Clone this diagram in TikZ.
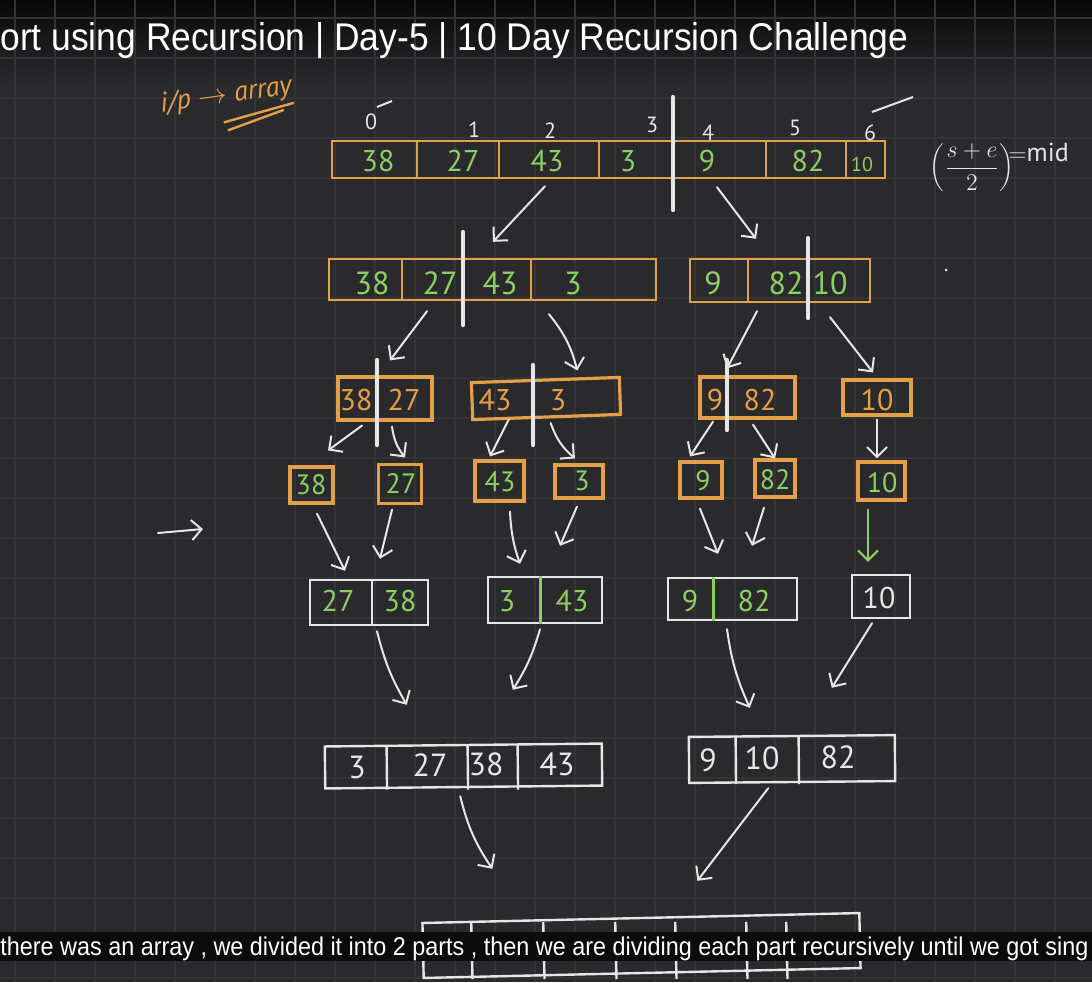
\documentclass[tikz,border=0pt]{standalone}
\usepackage{fontspec}
\setmainfont{PT Sans}
\newfontfamily\ytfont{Liberation Sans}
\usepackage{graphicx}
\usetikzlibrary{arrows.meta,calc}

\definecolor{board}{RGB}{42,42,44}
\definecolor{gridln}{RGB}{52,52,54}
\definecolor{chalk}{RGB}{230,230,230}
\definecolor{marker}{RGB}{228,160,72}
\definecolor{lime}{RGB}{140,208,100}
\definecolor{capband}{RGB}{12,12,12}
\newcommand\hsz[1]{\fontsize{#1}{#1}\selectfont}

\begin{document}
\begin{tikzpicture}[
  x=0.5pt, y=-0.5pt,
  arr/.style={chalk, line width=1pt, line cap=round,
    -{Straight Barb[length=5pt,width=10pt,line width=1pt]}},
  cell/.style={draw=#1, line width=1.2pt, inner sep=0pt},
  hcell/.style={draw=#1, line width=1.6pt, inner sep=0pt},
  num/.style={text=#1, inner sep=0pt},
  split/.style={chalk, line width=2.2pt, line cap=round},
]
\useasboundingbox (0,0) rectangle (1092,982);
\clip (0,0) rectangle (1092,982);

%--- BOARD ---
\fill[board] (0,0) rectangle (1092,982);
\shade[top color=black!80!board, bottom color=board] (0,0) rectangle (1092,85);
\foreach \gx in {15,55,...,1095} \draw[gridln, line width=0.6pt] (\gx,0) -- (\gx,982);
\foreach \gy in {18,58,...,978} \draw[gridln, line width=0.6pt] (0,\gy) -- (1092,\gy);

%--- TITLE ---
\node[anchor=base west, inner sep=0pt, text=white] (title) at (0,50)
  {\resizebox{454pt}{14pt}{\ytfont ort using Recursion | Day-5 | 10 Day Recursion Challenge}};

%--- INPUT NOTE ---
\node[num=marker, rotate=8, font=\hsz{14}\itshape] (inp) at (226,96) {i/p $\to$ array};
\draw[marker, line width=1.2pt] ($(inp.south west)+(62,4)$) -- ($(inp.south east)+(0,3)$);
\draw[marker, line width=1.2pt] ($(inp.south west)+(66,12)$) -- ($(inp.south east)+(-10,10)$);

%--- MID FORMULA ---
\node[num=chalk, font=\hsz{13}] (frac) at (972,168) {$\left(\displaystyle\frac{s+e}{2}\right)$};
\node[num=chalk, font=\hsz{13}, anchor=west] (midlbl) at (1008,152) {$=$mid};
\fill[chalk] (946,270) circle (1.5);

%--- LEVEL 0: INPUT ARRAY ---
\node[cell=marker, minimum width=276.5pt, minimum height=18.5pt] (T) at (608.5,159.5) {};
\foreach \d in {86,168,268,435,515}
  \draw[marker, line width=1.2pt] ($(T.north west)+(\d,0)$) -- ($(T.south west)+(\d,0)$);
\begin{scope}[font=\hsz{15}]
\foreach \v/\px [count=\i] in {38/378,27/463,43/547,3/628,9/707,82/808}
  \node[num=lime] (t\i) at (\px,161) {\v};
\end{scope}
\node[num=lime, font=\hsz{10}] (t7) at (862,164) {10};
\begin{scope}[font=\hsz{11}]
\foreach \v/\px/\py in {0/371/122,1/474/130,2/550/131,3/652/125,4/708/133,5/795/128,6/870/133}
  \node[num=chalk] (idx\v) at (\px,\py) {\v};
\end{scope}
\draw[chalk, line width=1pt] (377,107) -- (392,101);
\draw[chalk, line width=1pt] (872,112) -- (913,97);
\draw[split] (673,97) -- (673,210);

%--- LEVEL 1 ---
\node[cell=marker, minimum width=163.5pt, minimum height=20.5pt] (lft) at (492.5,279.5) {};
\node[cell=marker, minimum width=90pt, minimum height=21.5pt] (rgt) at (780,280.5) {};
\foreach \d in {74,135,203}
  \draw[marker, line width=1.2pt] ($(lft.north west)+(\d,0)$) -- ($(lft.south west)+(\d,0)$);
\draw[marker, line width=1.2pt] ($(rgt.north west)+(59,0)$) -- ($(rgt.south west)+(59,0)$);
\begin{scope}[font=\hsz{16}]
\foreach \v/\px [count=\i] in {38/372,27/440,43/500,3/573,9/713,82/786,10/830}
  \node[num=lime] (h\i) at (\px,283) {\v};
\end{scope}
\draw[split] (463,232) -- (463,325);
\draw[split] (808,238) -- (808,318);

%--- LEVEL 2 ---
\node[hcell=marker, minimum width=47pt, minimum height=21.5pt] (A3) at (385,398.5) {};
\node[hcell=marker, minimum width=74pt, minimum height=18.5pt, rotate=2] (B3) at (546,398.5) {};
\node[hcell=marker, minimum width=47.5pt, minimum height=20.5pt] (C3) at (747.5,397.5) {};
\node[hcell=marker, minimum width=34pt, minimum height=17.5pt] (D3) at (877,397.5) {};
\begin{scope}[font=\hsz{15}]
\foreach \v/\px [count=\i] in {38/356,27/404,43/495,3/558,9/715,82/760,10/877}
  \node[num=marker] (q\i) at (\px,400) {\v};
\end{scope}
\draw[split] (377,360) -- (377,445);
\draw[split] (533,365) -- (533,445);
\draw[split] (727,360) -- (727,430);

%--- LEVEL 3: SINGLE ELEMENTS ---
\node[hcell=marker, minimum width=21.5pt, minimum height=18pt] (a4) at (311.5,485) {};
\node[hcell=marker, minimum width=21.5pt, minimum height=19.5pt] (b4) at (400,484) {};
\node[hcell=marker, minimum width=24.5pt, minimum height=20pt] (c4) at (499.5,481) {};
\node[hcell=marker, minimum width=24pt, minimum height=16.5pt] (d4) at (579,481.5) {};
\node[hcell=marker, minimum width=21pt, minimum height=18pt] (e4) at (701,480) {};
\node[hcell=marker, minimum width=20pt, minimum height=18.5pt] (f4) at (775,478.5) {};
\node[hcell=marker, minimum width=23.5pt, minimum height=19pt] (g4) at (881.5,481) {};
\begin{scope}[font=\hsz{14}]
\foreach \v/\px/\py [count=\i] in {38/311/485,27/401/484,43/500/482,3/582/481,9/703/481,82/775/480,10/882/483}
  \node[num=lime] (s\i) at (\px,\py) {\v};
\end{scope}

\coordinate (lonea) at (158,533);
\coordinate (loneb) at (203,529);
\draw[arr] (lonea) -- (loneb);

%--- LEVEL 4: MERGED PAIRS ---
\node[cell=chalk, minimum width=59pt, minimum height=22.5pt] (A5) at (369,602.5) {};
\node[cell=chalk, minimum width=57pt, minimum height=23pt] (B5) at (545,600) {};
\node[cell=chalk, minimum width=64.5pt, minimum height=21pt] (C5) at (732.5,599) {};
\node[cell=chalk, minimum width=29pt, minimum height=21.5pt] (D5) at (881,596.5) {};
\draw[chalk, line width=1.2pt] ($(A5.north west)+(63,0)$) -- ($(A5.south west)+(63,0)$);
\draw[lime, line width=1.4pt] ($(B5.north west)+(54,0)$) -- ($(B5.south west)+(54,0)$);
\draw[lime, line width=1.4pt] ($(C5.north west)+(47,0)$) -- ($(C5.south west)+(47,0)$);
\begin{scope}[font=\hsz{15}]
\foreach \v/\px [count=\i] in {27/338,38/400,3/507,43/572,9/690,82/754}
  \node[num=lime] (p\i) at (\px,601) {\v};
\node[num=chalk] (p7) at (879,598) {10};
\end{scope}

%--- LEVEL 5: MERGED HALVES ---
\node[cell=chalk, minimum width=138.5pt, minimum height=21pt, rotate=0.6] (A6) at (463.5,766) {};
\node[cell=chalk, minimum width=103pt, minimum height=23pt, rotate=0.5] (B6) at (792,759) {};
\foreach \d in {63,144,194}
  \draw[chalk, line width=1.2pt] ($(A6.north west)+(\d,0)$) -- ($(A6.south west)+(\d,0)$);
\foreach \d in {48,111}
  \draw[chalk, line width=1.2pt] ($(B6.north west)+(\d,0)$) -- ($(B6.south west)+(\d,0)$);
\begin{scope}[font=\hsz{16}]
\foreach \v/\px/\py [count=\i] in {3/357/767,27/430/765,38/486/764,43/557/764,9/708/760,10/762/758,82/838/757}
  \node[num=chalk] (m\i) at (\px,\py) {\v};
\end{scope}

%--- LEVEL 6: SORTED (mostly under the caption) ---
\node[cell=chalk, minimum width=218.5pt, minimum height=27.5pt, rotate=1.3] (E7) at (641.5,945.5) {};
\foreach \d in {50,122,194,254,325,365}
  \draw[chalk, line width=1.2pt] ($(E7.north west)+(\d,0)$) -- ($(E7.south west)+(\d,0)$);

%--- ARROWS: DIVIDE ---
\draw[arr] ($(T.south)+(-63.5,7)$) -- ($(lft.north)+(0.5,-16)$);
\draw[arr] ($(T.south)+(108.5,8)$) -- ($(rgt.north)+(-24,-19)$);
\draw[arr] ($(lft.south)+(-65.5,10)$) -- ($(A3.north)+(5,-15)$);
\draw[arr] ($(lft.south)+(56.5,13)$) to[bend left=12] ($(B3.north)+(32,-8)$);
\draw[arr] ($(rgt.south)+(-23,8)$) -- ($(C3.north)+(-20.5,-7)$);
\draw[arr] ($(rgt.south)+(50,14)$) -- ($(D3.north)+(-4,-6)$);
\draw[arr] ($(A3.south)+(-23,4)$) -- ($(a4.north)+(16.5,-15)$);
\draw[arr] ($(A3.south)+(7,5)$) to[bend right=15] ($(b4.north)+(5,-5.5)$);
\draw[arr] ($(B3.south)+(-38,1)$) -- ($(c4.north)+(-9.5,-3)$);
\draw[arr] ($(B3.south)+(4,4.5)$) to[bend right=15] ($(d4.north)+(-4,-5)$);
\draw[arr] ($(C3.south)+(-34.5,2)$) -- ($(e4.north)+(-11,-4)$);
\draw[arr] ($(C3.south)+(5.5,5)$) -- ($(f4.north)+(0,0)$);
\draw[arr] ($(D3.south)+(0,3)$) -- ($(g4.north)+(-4.5,-2)$);

%--- ARROWS: MERGE ---
\draw[arr] ($(a4.south)+(5.5,9)$) -- ($(A5.north)+(-24,-8)$);
\draw[arr] ($(b4.south)+(-8,4.5)$) -- ($(A5.north)+(11,-20)$);
\draw[arr] ($(c4.south)+(10.5,9)$) to[bend right=8] ($(B5.north)+(-25,-12)$);
\draw[arr] ($(d4.south)+(-2,7)$) -- ($(B5.north)+(15,-30)$);
\draw[arr] ($(e4.south)+(-1,9)$) -- ($(C5.north)+(-14.5,-23)$);
\draw[arr] ($(f4.south)+(-11,9)$) -- ($(C5.north)+(19.5,-31)$);
\draw[arr, lime] ($(g4.south)+(-13.5,8)$) -- ($(D5.north)+(-13,-12)$);
\draw[arr] ($(A5.south)+(8,5)$) to[bend right=8] ($(A6.north)+(-56.5,-39)$);
\draw[arr] ($(B5.south)+(-5,5)$) to[bend left=8] ($(A6.north)+(49.5,-54)$);
\draw[arr] ($(C5.south)+(-5.5,8)$) to[bend right=8] ($(B6.north)+(-42,-27)$);
\draw[arr] ($(D5.south)+(-9,4)$) -- ($(B6.north)+(40,-47)$);
\draw[arr] ($(A6.south)+(-3.5,8)$) to[bend right=10] ($(E7.north)+(-148.5,-48)$);
\draw[arr] ($(B6.south)+(-24,5)$) -- ($(E7.north)+(56.5,-36)$);

%--- CAPTION ---
\fill[capband] (0,932) rectangle (1092,961);
\node[anchor=base west, inner sep=0pt, text=white] (caption) at (0,955)
  {\resizebox{544pt}{9.3pt}{\ytfont there was an array , we divided it into 2 parts , then we are dividing each part recursively until we got sing}};
\end{tikzpicture}
\end{document}
